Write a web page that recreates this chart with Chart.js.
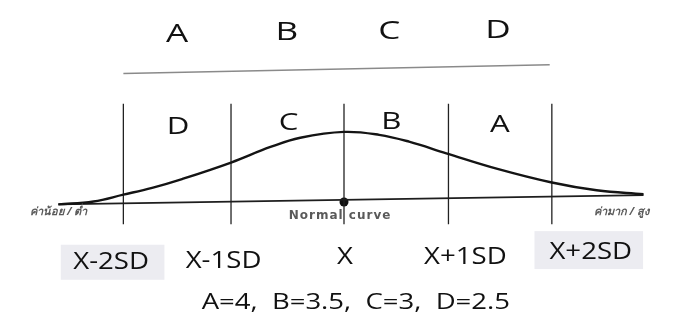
<!DOCTYPE html>
<html>
<head>
<meta charset="utf-8">
<script src="https://cdn.jsdelivr.net/npm/chart.js@4.4.0/dist/chart.umd.min.js"></script>
<style>
  html, body { margin: 0; padding: 0; background: #fff; }
  #wrap { width: 688px; height: 329px; position: relative; }
</style>
</head>
<body>
<div id="wrap"><canvas id="chart"></canvas></div>
<script>
// x in SD units from the mean, y in height above the axis
const curveX = [-2.68, -2.35, -2.07, -1.8, -1.52, -1.06, -0.69, -0.41, 0, 0.33, 0.61, 0.96, 1.44, 1.95, 2.37, 2.81];
const curveY = [-2.5, 0.5, 7.5, 14.5, 23.5, 40.5, 56.5, 66, 72, 69, 62, 50, 34, 20, 12, 8];
const baseX = [-2.68, 2.81];
const baseY = [-2.5, 7];
const sdLines = [-2.07, -1.06, 0, 0.98, 1.95];
const sdLabels = ['X-2SD', 'X-1SD', 'X', 'X+1SD', 'X+2SD'];
const gradesTop = ['A', 'B', 'C', 'D'];
const gradesBand = ['D', 'C', 'B', 'A'];
const gradeNote = 'A=4,  B=3.5,  C=3,  D=2.5';
const lowText = 'ค่าน้อย / ต่ำ';
const highText = 'ค่ามาก / สูง';
const curveName = 'Normal curve';

const FONT = '"Open Sans", "Noto Sans", sans-serif';

// text placement (sd, height) for the annotation plugin
const layoutText = {
    top:  { x: [-1.565, -0.537, 0.426, 1.444], y: [172, 174, 175, 176] },
    band: { x: [-1.556, -0.519, 0.444, 1.463], y: [77, 81, 82, 79] },
    sd:   { x: [-2.185, -1.13, 0.01, 1.139, 2.315], y: [-62, -61, -57, -57, -52] },
    boxes: [[-2.657, -44, -1.685, -80], [1.787, -30, 2.806, -69]]
};

const pts = (xs, ys) => xs.map((x, i) => ({ x: x, y: ys[i] }));

const datasets = [
    {
        data: pts(curveX, curveY),
        borderColor: '#141414',
        borderWidth: 2.4,
        pointRadius: 0,
        tension: 0.4
    },
    {
        data: pts(baseX, baseY),
        borderColor: '#1e1e1e',
        borderWidth: 1.8,
        pointRadius: 0
    },
    {
        // line under the top grade row
        data: [{ x: -2.07, y: 132 }, { x: 1.93, y: 141 }],
        borderColor: '#8a8a8a',
        borderWidth: 1.4,
        pointRadius: 0
    }
];

sdLines.forEach((sd) => {
    datasets.push({
        data: [{ x: sd, y: 101 }, { x: sd, y: -23 }],
        borderColor: '#222',
        borderWidth: 1.3,
        pointRadius: 0
    });
});

datasets.push({
    type: 'scatter',
    data: [{ x: 0, y: 0 }],
    pointRadius: 4.5,
    pointBackgroundColor: '#111',
    pointBorderWidth: 0
});

// the scanned lettering is wide, so text is stretched sideways
function wideText(ctx, text, px, py, stretch) {
    ctx.save();
    ctx.translate(px, py);
    ctx.scale(stretch, 1);
    ctx.fillText(text, 0, 0);
    ctx.restore();
}

const diagramText = {
    id: 'diagramText',
    beforeDatasetsDraw(chart) {
        const { ctx, scales: { x, y } } = chart;
        ctx.save();
        ctx.fillStyle = '#ececf1';
        layoutText.boxes.forEach(([x0, y0, x1, y1]) => {
            const px0 = x.getPixelForValue(x0), py0 = y.getPixelForValue(y0);
            const px1 = x.getPixelForValue(x1), py1 = y.getPixelForValue(y1);
            ctx.fillRect(px0, py0, px1 - px0, py1 - py0);
        });
        ctx.restore();
    },
    afterDatasetsDraw(chart) {
        const { ctx, scales: { x, y } } = chart;
        ctx.save();
        ctx.textAlign = 'center';
        ctx.textBaseline = 'middle';
        ctx.fillStyle = '#111';

        ctx.font = '500 26px ' + FONT;
        gradesTop.forEach((g, i) => {
            wideText(ctx, g, x.getPixelForValue(layoutText.top.x[i]), y.getPixelForValue(layoutText.top.y[i]), 1.35);
        });

        ctx.font = '500 24px ' + FONT;
        gradesBand.forEach((g, i) => {
            wideText(ctx, g, x.getPixelForValue(layoutText.band.x[i]), y.getPixelForValue(layoutText.band.y[i]), 1.3);
        });

        ctx.font = '500 23px ' + FONT;
        sdLabels.forEach((t, i) => {
            wideText(ctx, t, x.getPixelForValue(layoutText.sd.x[i]), y.getPixelForValue(layoutText.sd.y[i]), 1.2);
        });

        ctx.font = '22px ' + FONT;
        wideText(ctx, gradeNote, x.getPixelForValue(0.111), y.getPixelForValue(-104), 1.25);

        // small labels along the axis
        ctx.fillStyle = '#5a5a5a';
        ctx.font = 'bold 12px "DejaVu Sans", sans-serif';
        ctx.letterSpacing = '1px';
        ctx.fillText(curveName, x.getPixelForValue(-0.037), y.getPixelForValue(-14));
        ctx.letterSpacing = '0px';
        ctx.font = 'bold italic 11px "Noto Sans", "DejaVu Sans", sans-serif';
        ctx.fillText(lowText, x.getPixelForValue(-2.676), y.getPixelForValue(-10));
        ctx.textAlign = 'left';
        ctx.fillText(highText, x.getPixelForValue(2.343), y.getPixelForValue(-10));
        ctx.restore();
    }
};

new Chart(document.getElementById('chart'), {
    type: 'line',
    data: { datasets: datasets },
    options: {
        responsive: true,
        maintainAspectRatio: false,
        animation: false,
        layout: { padding: 0 },
        plugins: {
            legend: { display: false },
            tooltip: { enabled: false }
        },
        scales: {
            x: { type: 'linear', min: -344 / 108, max: 344 / 108, display: false },
            y: { type: 'linear', min: -126, max: 203, display: false }
        }
    },
    plugins: [diagramText]
});
</script>
</body>
</html>
